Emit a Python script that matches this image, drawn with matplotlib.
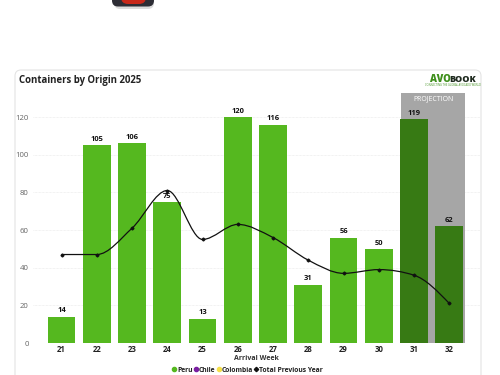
import matplotlib
matplotlib.use('Agg')
import matplotlib.pyplot as plt
from matplotlib.patches import FancyBboxPatch, PathPatch
from matplotlib.path import Path
from matplotlib.lines import Line2D
import numpy as np

plt.rcParams['font.family'] = ['Open Sans', 'DejaVu Sans']

# data
weeks = [21, 22, 23, 24, 25, 26, 27, 28, 29, 30, 31, 32]
peru = [14, 105, 106, 75, 13, 120, 116, 31, 56, 50, 119, 62]
previous_year = [47, 47, 61, 81, 55, 63, 56, 44, 37, 39, 36, 21]
projected_weeks = [31, 32]
yticks = [0, 20, 40, 60, 80, 100, 120]
legend_names = ['Peru', 'Chile', 'Colombia', 'Total Previous Year']
legend_colors = ['#55b81f', '#7a1fa2', '#f5e04a', '#111111']

GREEN = '#55b81f'
DARK_GREEN = '#377a14'


def monotone_path(x, y):
    # monotone cubic, flat at local peaks and dips
    s = np.diff(y) / np.diff(x)
    t = np.zeros(len(x))
    for i in range(1, len(x) - 1):
        p = (s[i - 1] + s[i]) / 2
        t[i] = (np.sign(s[i - 1]) + np.sign(s[i])) * min(abs(s[i - 1]), abs(s[i]), 0.5 * abs(p))
    t[0] = (3 * s[0] - t[1]) / 2
    t[-1] = (3 * s[-1] - t[-2]) / 2
    verts = [(x[0], y[0])]
    codes = [Path.MOVETO]
    for i in range(len(x) - 1):
        verts.append((x[i] + 1 / 3, y[i] + t[i] / 3))
        verts.append((x[i + 1] - 1 / 3, y[i + 1] - t[i + 1] / 3))
        verts.append((x[i + 1], y[i + 1]))
        codes += [Path.CURVE4] * 3
    return Path(verts, codes)


fig = plt.figure(figsize=(5, 3.75), dpi=100)

# page layer in pixels, for the card and the icon cut off at the top
bg = fig.add_axes([0, 0, 1, 1])
bg.set_xlim(0, 500)
bg.set_ylim(375, 0)
bg.axis('off')
bg.add_patch(FancyBboxPatch((114, -14), 40, 23, boxstyle='round,pad=0,rounding_size=6',
                            fc='#c4c4c4', ec='none', alpha=0.6))
bg.add_patch(FancyBboxPatch((112, -16), 42, 22.5, boxstyle='round,pad=0,rounding_size=6',
                            fc='#2d2d35', ec='none'))
bg.add_patch(FancyBboxPatch((121, -14), 25, 18, boxstyle='round,pad=0,rounding_size=7',
                            fc='#c8281a', ec='none'))
bg.add_patch(FancyBboxPatch((15, 70), 466, 340, boxstyle='round,pad=0,rounding_size=6',
                            fc='white', ec='#e4e4e4', lw=0.8))
bg.text(19, 80, 'Containers by Origin 2025', fontsize=6.9, fontweight='bold',
        color='#222222', va='center', ha='left')

# logo
bg.text(430, 79.5, 'AVO', fontsize=6.9, fontweight='heavy', color='#3f8f1c', va='center', ha='left')
bg.text(449.5, 79.5, 'BOOK', fontsize=6.5, fontweight='heavy', color='#1f2a1f', va='center', ha='left')
bg.text(453, 85.5, 'CONNECTING THE GLOBAL AVOCADO WORLD', fontsize=1.9, color='#3f8f1c',
        va='center', ha='center')

# plot area: x 33-480 px, y 93-343 px
ax = fig.add_axes([33 / 500, 1 - 343 / 375, 447 / 500, 250 / 375])
ax.patch.set_alpha(0)
ax.set_xlim(20.19, 32.87)
ax.set_ylim(0, 132.8)

ax.axvspan(30.63, 32.45, color='#a6a6a6', lw=0, zorder=1)
ax.text(31.54, 129.5, 'PROJECTION', color='white', fontsize=5, ha='center', va='center', zorder=5)

colors = [DARK_GREEN if w in projected_weeks else GREEN for w in weeks]
ax.bar(weeks, peru, width=0.79, color=colors, zorder=2)
for w, v in zip(weeks, peru):
    ax.text(w, v + 1.2, str(v), fontsize=5.4, fontweight='bold', color='#111111',
            ha='center', va='bottom', zorder=5)

ax.add_patch(PathPatch(monotone_path(weeks, previous_year), fc='none', ec='#111111', lw=0.9, zorder=3))
ax.plot(weeks, previous_year, ls='none', marker='D', ms=1.5, color='#111111', zorder=4)

ax.set_yticks(yticks)
ax.set_xticks(weeks)
ax.set_xticklabels([str(w) for w in weeks], fontsize=5.6, fontweight='bold', color='#222222')
ax.tick_params(axis='x', length=0, pad=1.5)
ax.tick_params(axis='y', length=0, pad=3, labelsize=5.6, labelcolor='#666666')
ax.grid(axis='y', color='#e6e6e6', lw=0.5, ls=(0, (1, 1)), zorder=0)
ax.set_axisbelow(True)
for s in ax.spines.values():
    s.set_visible(False)
ax.set_xlabel('Arrival Week', fontsize=5, fontweight='bold', color='#333333', labelpad=1)

handles = [Line2D([], [], ls='none', marker='D' if n.startswith('Total') else 'o',
                  ms=2.2 if n.startswith('Total') else 3, color=c)
           for n, c in zip(legend_names, legend_colors)]
leg = fig.legend(handles, legend_names, ncol=4, loc='center', bbox_to_anchor=(247.5 / 500, 1 - 370 / 375),
                 frameon=False, fontsize=4.9, handletextpad=0.1, columnspacing=0.1,
                 borderpad=0, handlelength=0.7)
for t in leg.get_texts():
    t.set_fontweight('bold')
    t.set_color('#222222')

fig.savefig('out.png', dpi=100)
